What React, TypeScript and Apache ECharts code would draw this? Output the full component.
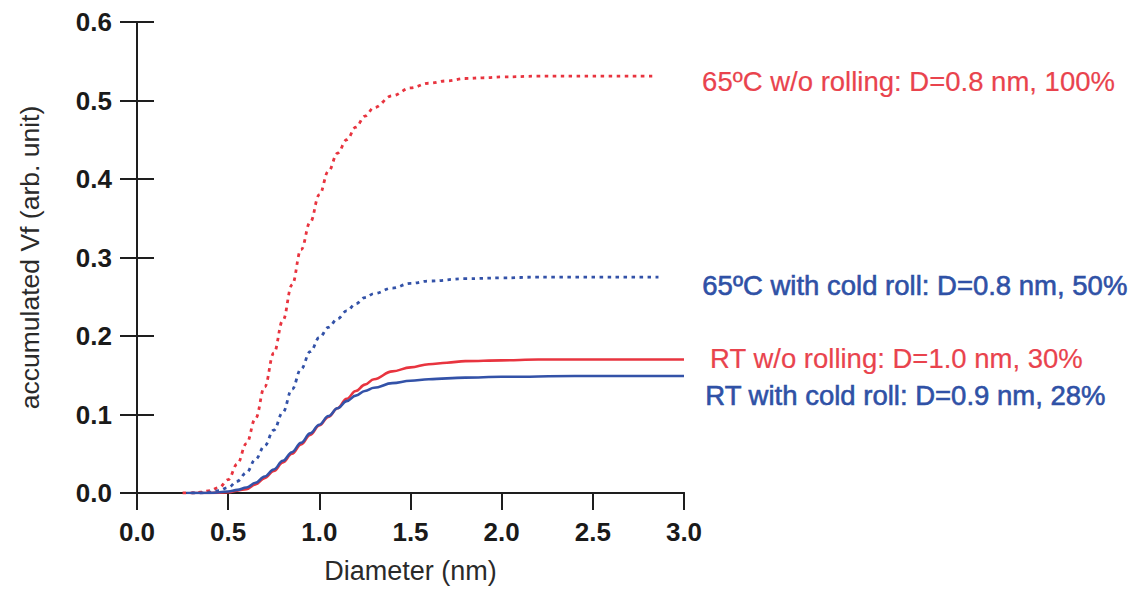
import React, { useEffect, useRef } from "react";
import * as echarts from "echarts";

// 65ºC w/o rolling (red dotted)
const hotNoRollX = [0.25, 0.3, 0.35, 0.4, 0.45, 0.5, 0.55, 0.6, 0.65, 0.7, 0.75, 0.8, 0.85, 0.9, 0.95, 1.0, 1.05, 1.1, 1.15, 1.2, 1.25, 1.3, 1.4, 1.5, 1.6, 1.7, 1.8, 1.9, 2.0, 2.2, 2.5, 2.83];
const hotNoRollY = [0, 0, 0.001, 0.003, 0.007, 0.017, 0.037, 0.063, 0.095, 0.135, 0.178, 0.22, 0.265, 0.31, 0.345, 0.38, 0.41, 0.433, 0.45, 0.466, 0.48, 0.491, 0.506, 0.516, 0.522, 0.525, 0.528, 0.529, 0.53, 0.531, 0.531, 0.531];

// 65ºC with cold roll (blue dotted)
const hotRollX = [0.3, 0.35, 0.4, 0.45, 0.5, 0.55, 0.6, 0.65, 0.7, 0.75, 0.8, 0.85, 0.9, 0.95, 1.0, 1.05, 1.1, 1.15, 1.2, 1.25, 1.3, 1.4, 1.5, 1.6, 1.8, 2.0, 2.2, 2.86];
const hotRollY = [0, 0, 0.001, 0.003, 0.007, 0.015, 0.026, 0.043, 0.06, 0.08, 0.103, 0.132, 0.158, 0.18, 0.198, 0.211, 0.222, 0.232, 0.241, 0.249, 0.254, 0.261, 0.267, 0.27, 0.273, 0.274, 0.275, 0.275];

// RT w/o rolling (red solid)
const rtNoRollX = [0.3, 0.4, 0.5, 0.55, 0.6, 0.65, 0.7, 0.75, 0.8, 0.85, 0.9, 0.95, 1.0, 1.05, 1.1, 1.15, 1.2, 1.25, 1.3, 1.4, 1.5, 1.6, 1.7, 1.8, 2.0, 2.2, 2.6, 3.0];
const rtNoRollY = [0, 0, 0.001, 0.003, 0.005, 0.011, 0.019, 0.028, 0.039, 0.05, 0.062, 0.074, 0.086, 0.097, 0.108, 0.12, 0.13, 0.138, 0.145, 0.155, 0.16, 0.164, 0.166, 0.168, 0.169, 0.17, 0.17, 0.17];

// RT with cold roll (blue solid)
const rtRollX = [0.27, 0.4, 0.5, 0.55, 0.6, 0.65, 0.7, 0.75, 0.8, 0.85, 0.9, 0.95, 1.0, 1.05, 1.1, 1.15, 1.2, 1.25, 1.3, 1.4, 1.5, 1.6, 1.8, 2.0, 2.4, 3.0];
const rtRollY = [0, 0, 0.002, 0.004, 0.007, 0.013, 0.021, 0.03, 0.041, 0.052, 0.064, 0.076, 0.087, 0.098, 0.108, 0.117, 0.124, 0.13, 0.134, 0.14, 0.143, 0.145, 0.147, 0.148, 0.149, 0.149];

const xTicks = { min: 0, max: 3, interval: 0.5 };
const yTicks = { min: 0, max: 0.6, interval: 0.1 };

const labels = [
  { text: "65ºC w/o rolling: D=0.8 nm, 100%", color: "red" },
  { text: "65ºC with cold roll: D=0.8 nm, 50%", color: "blue" },
  { text: "RT w/o rolling: D=1.0 nm, 30%", color: "red" },
  { text: "RT with cold roll: D=0.9 nm, 28%", color: "blue" },
];

const RED = "#e8343f";
const BLUE = "#3352a8";
const RED_TEXT = "#e9434d";
const BLUE_TEXT = "#2f51a6";
const AXIS = "#1e1e1e";
const FONT = "'Liberation Sans', Arial, Helvetica, sans-serif";

const zip = (xs: number[], ys: number[]) => xs.map((x, i) => [x, ys[i]]);

export default function App() {
  const ref = useRef<HTMLDivElement>(null);

  useEffect(() => {
    if (!ref.current) return;
    const chart = echarts.init(ref.current, undefined, { renderer: "svg" });

    const labelPos = [
      { x: 702, y: 83 },
      { x: 702, y: 287 },
      { x: 710, y: 360 },
      { x: 705, y: 397 },
    ];

    const axisLine = { show: true, lineStyle: { color: AXIS, width: 2 } };
    const tickStyle = { show: true, length: 17, inside: false, lineStyle: { color: AXIS, width: 2 } };

    chart.setOption({
      animation: false,
      backgroundColor: "#ffffff",
      grid: { left: 137, right: 454, top: 22, bottom: 95, containLabel: false },
      xAxis: [
        {
          type: "value",
          position: "bottom",
          ...xTicks,
          axisLine,
          axisTick: tickStyle,
          splitLine: { show: false },
          axisLabel: {
            margin: 26,
            fontSize: 26,
            fontWeight: "bold",
            fontFamily: FONT,
            color: "#1a1a1a",
            formatter: (v: number) => v.toFixed(1),
          },
          name: "Diameter (nm)",
          nameLocation: "middle",
          nameGap: 64,
          nameTextStyle: { fontSize: 27, fontFamily: FONT, color: "#2a2a2a" },
        },
        {
          type: "value",
          position: "top",
          ...xTicks,
          axisLine,
          axisTick: { show: false },
          axisLabel: { show: false },
          splitLine: { show: false },
        },
      ],
      yAxis: [
        {
          type: "value",
          position: "left",
          ...yTicks,
          axisLine,
          axisTick: tickStyle,
          splitLine: { show: false },
          axisLabel: {
            margin: 25,
            fontSize: 26,
            fontWeight: "bold",
            fontFamily: FONT,
            color: "#1a1a1a",
            formatter: (v: number) => v.toFixed(1),
          },
          name: "accumulated Vf (arb. unit)",
          nameLocation: "middle",
          nameGap: 94,
          nameRotate: 90,
          nameTextStyle: { fontSize: 26.5, fontFamily: FONT, color: "#2a2a2a" },
        },
        {
          type: "value",
          position: "right",
          ...yTicks,
          axisLine,
          axisTick: tickStyle,
          axisLabel: { show: false },
          splitLine: { show: false },
        },
      ],
      series: [
        {
          name: "65ºC w/o rolling",
          type: "line",
          data: zip(hotNoRollX, hotNoRollY),
          showSymbol: false,
          smooth: 0.4,
          smoothMonotone: "x",
          lineStyle: { color: RED, width: 2.8, type: [3.5, 4.5] },
          z: 3,
        },
        {
          name: "65ºC with cold roll",
          type: "line",
          data: zip(hotRollX, hotRollY),
          showSymbol: false,
          smooth: 0.4,
          smoothMonotone: "x",
          lineStyle: { color: BLUE, width: 2.8, type: [3.5, 4.5] },
          z: 3,
        },
        {
          name: "RT w/o rolling",
          type: "line",
          data: zip(rtNoRollX, rtNoRollY),
          showSymbol: false,
          smooth: 0.4,
          smoothMonotone: "x",
          lineStyle: { color: RED, width: 2.6 },
          z: 3,
        },
        {
          name: "RT with cold roll",
          type: "line",
          data: zip(rtRollX, rtRollY),
          showSymbol: false,
          smooth: 0.4,
          smoothMonotone: "x",
          lineStyle: { color: BLUE, width: 2.6 },
          z: 4,
        },
      ],
      graphic: labels.map((l, i) => ({
        type: "text",
        left: labelPos[i].x,
        top: labelPos[i].y - 16,
        style: {
          text: l.text,
          fill: l.color === "red" ? RED_TEXT : BLUE_TEXT,
          font: `27.5px ${FONT}`,
          stroke: l.color === "red" ? RED_TEXT : BLUE_TEXT,
          lineWidth: l.color === "red" ? 0.2 : 0.6,
        },
      })),
    });

    return () => chart.dispose();
  }, []);

  return (
    <div
      ref={ref}
      style={{ position: "fixed", left: 0, top: 0, width: 1138, height: 589, background: "#fff" }}
    />
  );
}
